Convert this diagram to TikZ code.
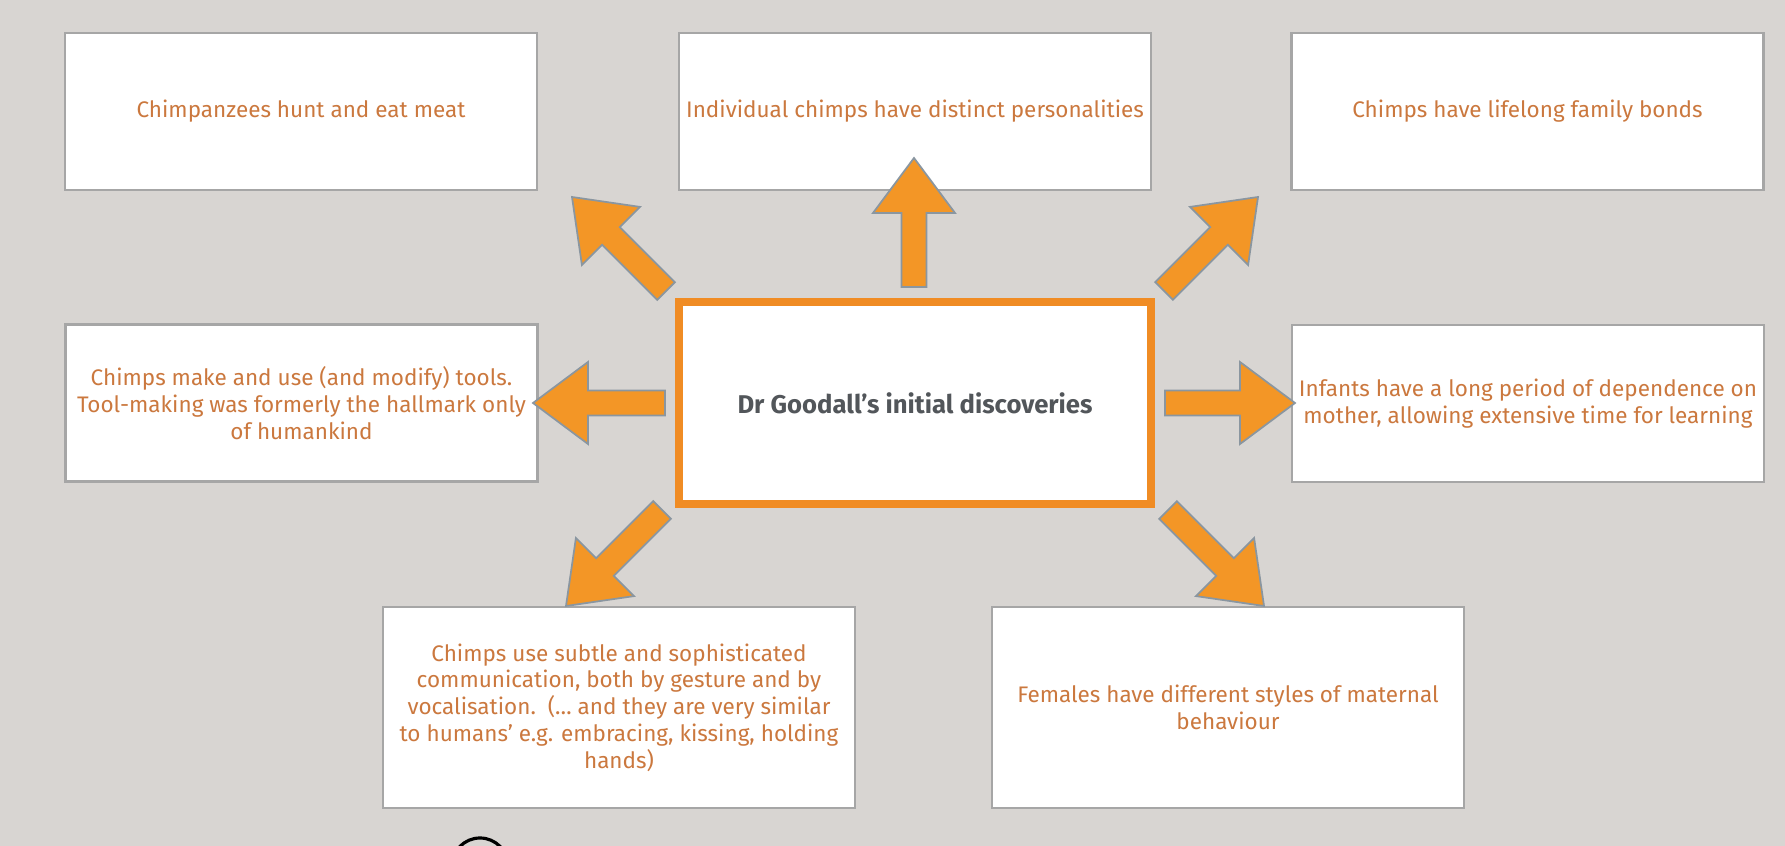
\documentclass[tikz,border=0pt]{standalone}
\usepackage{fontspec}
\setmainfont{Fira Sans}
\usetikzlibrary{calc, decorations.pathmorphing}

\definecolor{slidegrey}{RGB}{216,213,210}
\definecolor{notetext}{RGB}{203,120,62}
\definecolor{titletext}{RGB}{82,86,90}
\definecolor{arrowfill}{RGB}{243,150,38}
\definecolor{arrowedge}{RGB}{138,150,160}
\definecolor{frameorange}{RGB}{240,140,36}

\tikzset{
  note/.style={draw=gray!70, line width=0.7pt, fill=white, inner sep=0pt,
    minimum width=4.72cm, minimum height=1.57cm, align=center,
    text=notetext, font=\fontsize{6.4}{7.6}\selectfont},
  tallnote/.style={note, minimum height=2.01cm},
  hub/.style={draw=frameorange, line width=0.08cm, fill=white, inner sep=0pt,
    minimum width=4.72cm, minimum height=2.02cm,
    text=titletext, font=\fontsize{7.3}{9}\selectfont\bfseries},
  rough/.style={draw=frameorange, line width=0.7pt, decorate,
    decoration={random steps, segment length=2.5pt, amplitude=0.5pt}}
}

% block arrow from tail #1 to tip #2
\newcommand{\hubarrow}[2]{%
  \coordinate (hb) at ($(#2)!0.55cm!(#1)$);
  \filldraw[fill=arrowfill, draw=arrowedge, line width=0.5pt]
    ($(#1)!1.25mm!90:(#2)$) -- ($(hb)!1.25mm!90:(#2)$) -- ($(hb)!4.1mm!90:(#2)$) -- (#2)
    -- ($(hb)!4.1mm!-90:(#2)$) -- ($(hb)!1.25mm!-90:(#2)$) -- ($(#1)!1.25mm!-90:(#2)$) -- cycle;}

\begin{document}
\begin{tikzpicture}[x=0.01cm, y=-0.01cm]
  \useasboundingbox (0,0) rectangle (1785,846);
  \clip (0,0) rectangle (1785,846);
  \fill[slidegrey] (0,0) rectangle (1785,846);

  % centre
  \node[hub] (hub) at (915,403) {Dr Goodall's initial discoveries};
  \draw[rough] ($(hub.north west)+(5,5)$) rectangle ($(hub.south east)+(-5,-5)$);

  % discoveries
  \node[note] (hunt) at (301,111.5) {Chimpanzees hunt and eat meat};
  \node[note] (persona) at (915,111.5) {Individual chimps have distinct personalities};
  \node[note] (bonds) at (1527.5,111.5) {Chimps have lifelong family bonds};
  \node[note] (tools) at (301.5,403) {Chimps make and use (and modify) tools.\\Tool-making was formerly the hallmark only\\of humankind};
  \node[note] (infants) at (1528,403.5) {Infants have a long period of dependence on\\mother, allowing extensive time for learning};
  \node[tallnote] (talk) at (619,707.5) {Chimps use subtle and sophisticated\\communication, both by gesture and by\\vocalisation.\ \ (\dots\ and they are very similar\\to humans' e.g. embracing, kissing, holding\\hands)};
  \node[tallnote] (mothers) at (1228,707.5) {Females have different styles of maternal\\behaviour};

  % arrow ends
  \coordinate (upT) at (914,287);   \coordinate (upP) at (914,158);
  \coordinate (ulT) at (666,291);   \coordinate (ulP) at (572,197);
  \coordinate (urT) at (1164,291);  \coordinate (urP) at (1258,197);
  \coordinate (lfT) at (665,403);   \coordinate (lfP) at (533,403);
  \coordinate (rtT) at (1165,403);  \coordinate (rtP) at (1295,403);
  \coordinate (llT) at (662,510);   \coordinate (llP) at (566,606);
  \coordinate (lrT) at (1168,510);  \coordinate (lrP) at (1264,606);

  \hubarrow{upT}{upP}
  \hubarrow{ulT}{ulP}
  \hubarrow{urT}{urP}
  \hubarrow{lfT}{lfP}
  \hubarrow{rtT}{rtP}
  \hubarrow{llT}{llP}
  \hubarrow{lrT}{lrP}

  % cut-off mark at the bottom
  \draw[line width=0.9pt] (480,866) circle (0.28cm);
\end{tikzpicture}
\end{document}
